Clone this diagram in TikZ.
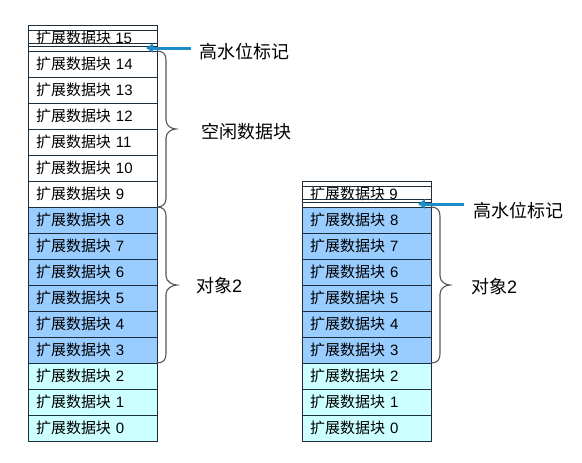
\documentclass[tikz,border=0pt]{standalone}
\usepackage{fontspec}
\setmainfont{Liberation Sans}
\newfontfamily\cjk{Noto Sans CJK SC}
\usetikzlibrary{arrows.meta,calc}
\definecolor{objblue}{RGB}{153,204,255}
\definecolor{lowcyan}{RGB}{204,255,255}
\definecolor{cellline}{RGB}{30,45,60}
\definecolor{hwmblue}{RGB}{30,140,200}
\definecolor{bracegray}{RGB}{85,85,85}
\begin{document}
\begin{tikzpicture}[x=1pt,y=-1pt,
  cell/.style={draw=cellline, line width=0.8pt, minimum width=129pt, minimum height=26pt,
    text width=113pt, inner xsep=8pt, inner ysep=0pt, align=left, anchor=north west,
    font=\fontsize{15}{16}\selectfont, outer sep=0pt},
  celltext/.style={inner sep=0pt, anchor=west, font=\fontsize{15}{16}\selectfont},
  gridline/.style={draw=cellline, line width=0.8pt},
  lbl/.style={inner sep=0pt, anchor=west, font=\fontsize{18}{20}\selectfont},
  brc/.style={draw=bracegray, line width=1.1pt},
  hwmarrow/.style={draw=hwmblue, line width=3pt, -{Triangle[length=7pt,width=9pt]}}
]
\fill[white] (0,0) rectangle (582,463);
\useasboundingbox (0,0) rectangle (582,463);

% left column
\foreach \k in {0,...,14} {
  \pgfmathtruncatemacro{\yy}{415-26*\k}
  \ifnum\k<3 \def\fc{lowcyan}\else\ifnum\k<9 \def\fc{objblue}\else\def\fc{white}\fi\fi
  \node[cell, fill=\fc] (L\k) at (28,\yy) {{\cjk 扩展数据块} \k};
}
\node[cell, fill=white] (L15) at (28,25) {};
\node[celltext] (L15t) at (36,37.5) {{\cjk 扩展数据块} 15};
\foreach \d in {5,18,21}
  \draw[gridline] ([yshift=-\d pt]L15.north west) -- ([yshift=-\d pt]L15.north east);

% right column
\foreach \k in {0,...,8} {
  \pgfmathtruncatemacro{\yy}{415-26*\k}
  \ifnum\k<3 \def\fc{lowcyan}\else\def\fc{objblue}\fi
  \node[cell, fill=\fc] (R\k) at (302,\yy) {{\cjk 扩展数据块} \k};
}
\node[cell, fill=white] (R9) at (302,181) {};
\node[celltext] (R9t) at (310,193.5) {{\cjk 扩展数据块} 9};
\foreach \d in {5,18,21}
  \draw[gridline] ([yshift=-\d pt]R9.north west) -- ([yshift=-\d pt]R9.north east);

% braces
\def\bracepath#1#2#3{%
  \draw[brc] let \p1=(#1), \p2=(#2), \p3=($(\p1)!0.5!(\p2)$) in
    (\p1) .. controls ({\x1+6pt},\y1) and ({\x1+9pt},{\y1-3pt}) .. ({\x1+9pt},{\y1-9pt})
    -- ({\x1+9pt},{\y3+9pt}) .. controls ({\x1+9pt},{\y3+3pt}) and ({\x1+#3pt-4pt},\y3) .. ({\x1+#3pt},\y3)
    .. controls ({\x1+#3pt-4pt},\y3) and ({\x1+9pt},{\y3-3pt}) .. ({\x1+9pt},{\y3-9pt})
    -- ({\x1+9pt},{\y2+9pt}) .. controls ({\x1+9pt},{\y2+3pt}) and ({\x1+6pt},\y2) .. (\p2);
}
\bracepath{L14.north east}{L9.south east}{19}
\bracepath{L8.north east}{L3.south east}{20}
\bracepath{R8.north east}{R3.south east}{19}

% labels
\node[lbl] (free) at (201,132) {\cjk 空闲数据块};
\node[lbl] (obj2L) at (196,286) {{\cjk 对象}2};
\node[lbl] (obj2R) at (471,287) {{\cjk 对象}2};
\node[lbl] (hwmL) at (199,52) {\cjk 高水位标记};
\node[lbl] (hwmR) at (473,211) {\cjk 高水位标记};

% high water mark arrows
\coordinate (hwmLtail) at (191,48);
\coordinate (hwmLtip) at (146,48);
\draw[hwmarrow] (hwmLtail) -- (hwmLtip);
\coordinate (hwmRtail) at (464,204);
\coordinate (hwmRtip) at (418,204);
\draw[hwmarrow] (hwmRtail) -- (hwmRtip);
\end{tikzpicture}
\end{document}
